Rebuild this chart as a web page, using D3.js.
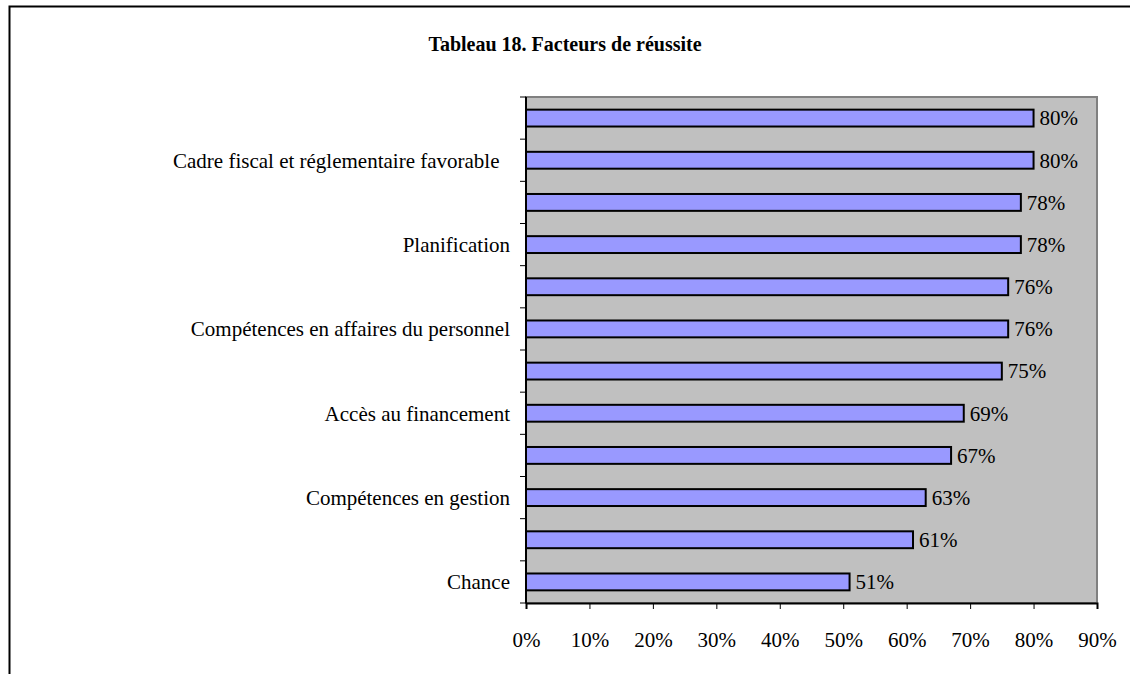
<!DOCTYPE html>
<html>
<head>
<meta charset="utf-8">
<script src="https://cdn.jsdelivr.net/npm/d3@7"></script>
<style>
  body { margin: 0; background: #fff; }
  svg { display: block; font-family: "Liberation Serif", "Times New Roman", serif; }
</style>
</head>
<body>
<svg width="1130" height="674"></svg>
<script>
// categories from top to bottom (odd ones are not labelled in the original)
const categories = ["", "Cadre fiscal et réglementaire favorable\u00a0\u00a0", "", "Planification",
    "", "Compétences en affaires du personnel", "", "Accès au financement",
    "", "Compétences en gestion", "", "Chance"];
const values = [80, 80, 78, 78, 76, 76, 75, 69, 67, 63, 61, 51];
const xTicks = [0, 10, 20, 30, 40, 50, 60, 70, 80, 90];
const title = "Tableau 18. Facteurs de réussite";

const svg = d3.select("svg"),
    width = +svg.attr("width"),
    height = +svg.attr("height");

// outer frame (only top and left edges visible)
svg.append("path")
    .attr("d", "M9.5," + height + "V6.5H" + width)
    .attr("fill", "none")
    .attr("stroke", "#000")
    .attr("stroke-width", 2);

svg.append("text")
    .attr("x", 565)
    .attr("y", 51)
    .attr("text-anchor", "middle")
    .attr("font-weight", "bold")
    .attr("font-size", 20)
    .text(title);

const plot = {left: 526, right: 1097, top: 97, bottom: 603};

const xScale = d3.scaleLinear().domain([0, 90]).range([plot.left, plot.right]);
const yScale = d3.scaleBand()
    .domain(d3.range(categories.length))
    .range([plot.top, plot.bottom])
    .paddingInner(0.6)
    .paddingOuter(0.3);

// plot background
svg.append("rect")
    .attr("x", plot.left)
    .attr("y", plot.top)
    .attr("width", plot.right - plot.left)
    .attr("height", plot.bottom - plot.top)
    .attr("fill", "#c0c0c0")
    .attr("stroke", "#808080")
    .attr("stroke-width", 2);

// bars
svg.selectAll(".bar")
    .data(values)
    .enter().append("rect")
    .attr("class", "bar")
    .attr("x", xScale(0))
    .attr("y", (d, i) => yScale(i))
    .attr("width", d => xScale(d) - xScale(0))
    .attr("height", yScale.bandwidth())
    .attr("fill", "#9999ff")
    .attr("stroke", "#000")
    .attr("stroke-width", 2);

// value labels
svg.selectAll(".val")
    .data(values)
    .enter().append("text")
    .attr("class", "val")
    .attr("x", d => xScale(d) + 6)
    .attr("y", (d, i) => yScale(i) + yScale.bandwidth() / 2)
    .attr("dy", "0.35em")
    .attr("font-size", 21)
    .text(d => d + "%");

// y axis: ticks at band boundaries
const step = (plot.bottom - plot.top) / categories.length;
const yAxis = svg.append("g");
yAxis.append("line")
    .attr("x1", plot.left).attr("x2", plot.left)
    .attr("y1", plot.top).attr("y2", plot.bottom)
    .attr("stroke", "#000").attr("stroke-width", 2);
yAxis.selectAll(".ytick")
    .data(d3.range(categories.length + 1))
    .enter().append("line")
    .attr("x1", plot.left - 6).attr("x2", plot.left)
    .attr("y1", i => plot.top + i * step)
    .attr("y2", i => plot.top + i * step)
    .attr("stroke", "#000");
yAxis.selectAll(".cat")
    .data(categories)
    .enter().append("text")
    .attr("x", plot.left - 16)
    .attr("y", (d, i) => yScale(i) + yScale.bandwidth() / 2)
    .attr("dy", "0.35em")
    .attr("text-anchor", "end")
    .attr("font-size", 21)
    .text(d => d);

// x axis
const xAxis = d3.axisBottom(xScale)
    .tickValues(xTicks)
    .tickSize(6)
    .tickFormat(d => d + "%");
const gx = svg.append("g")
    .attr("transform", "translate(0," + plot.bottom + ")")
    .call(xAxis);
gx.select(".domain").attr("stroke-width", 2);
gx.selectAll(".tick line").attr("stroke", "#000");
gx.selectAll(".tick text")
    .attr("font-family", "Liberation Serif, serif")
    .attr("font-size", 21)
    .attr("fill", "#000")
    .attr("dy", 0)
    .attr("y", 44);
</script>
</body>
</html>
